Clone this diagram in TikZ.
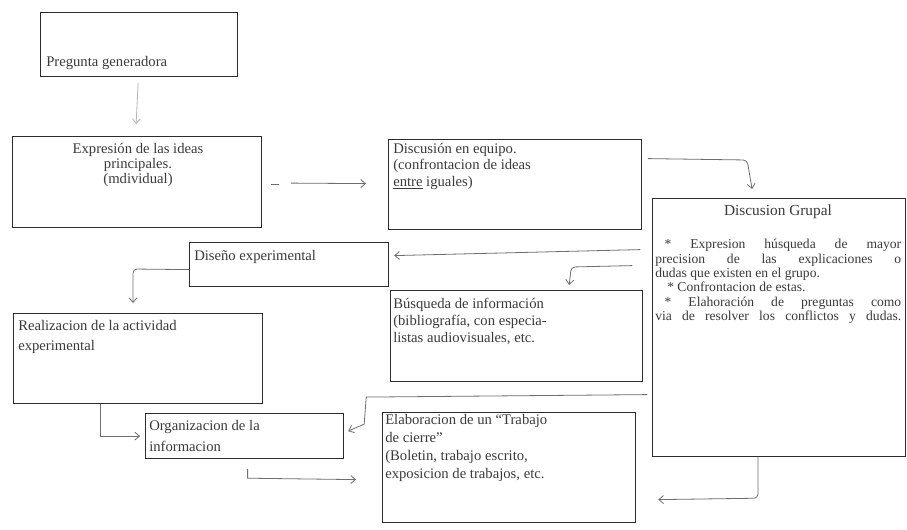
\documentclass[tikz,border=0pt]{standalone}
\usepackage{fontspec}
\setmainfont{Liberation Serif}
\usetikzlibrary{arrows.meta,calc}
\definecolor{ink}{HTML}{3A3A3A}
\definecolor{frame}{HTML}{2C2C2C}
\definecolor{pen}{HTML}{6E6E6E}
\newcommand{\framebx}[5]{\node[boxst,anchor=north west,minimum width={(#4-#2)*0.75pt},minimum height={(#5-#3)*0.75pt}] (#1) at (#2,#3) {};}
\begin{document}
\begin{tikzpicture}[x=0.75pt,y=-0.75pt,
  boxst/.style={draw=frame,line width=0.9pt,inner sep=0pt,fill=none},
  txt/.style={font=\fontsize{11}{13.5}\selectfont,text=ink,inner sep=0pt,align=left},
  txtsmall/.style={font=\fontsize{10.2}{10.8}\selectfont,text=ink,inner sep=0pt},
  arr/.style={draw=pen,line width=0.6pt,line cap=round,line join=round,-{Straight Barb[length=3.5pt,width=6pt]}},
  faint/.style={draw=pen!45,line width=0.6pt}]
\useasboundingbox[fill=white] (0,0) rectangle (907,529);

% boxes
\framebx{b1}{40}{12}{237}{76}
\framebx{b2}{12}{136}{261}{227}
\framebx{b3}{388}{139}{641}{229}
\framebx{b4}{652}{198}{905}{456}
\framebx{dis}{189}{242}{388}{286}
\framebx{bus}{390}{290}{642}{381}
\framebx{real}{13}{313}{262}{403}
\framebx{org}{145}{413}{343}{458}
\framebx{elab}{382}{412}{635}{522}

% texts
\node[txt,anchor=base west] (t1) at (46,66) {Pregunta generadora};
\node[txt,anchor=north,align=center,font=\fontsize{11}{11.2}\selectfont] (t2) at (138,143) {Expresión de las ideas\\principales.\\(mdividual)};
\node[txt,anchor=north west,font=\fontsize{11}{12.3}\selectfont] (t3) at (393,143) {Discusión en equipo.\\(confrontacion de ideas\\\underline{entre} iguales)};
\node[txt,anchor=center,font=\fontsize{11.5}{13.5}\selectfont] (t4) at (778,212) {Discusion Grupal};
\node[txtsmall,anchor=north west,text width=184.5pt,align=justify] (t4b) at (655,239)
  {\hspace*{7pt}* Expresion húsqueda de mayor\linebreak precision de las explicaciones o\linebreak dudas que existen en el grupo.\\
   \hspace*{9pt}* Confrontacion de estas.\\
   \hspace*{7pt}* Elahoración de preguntas como\linebreak \makebox[\linewidth][s]{via de resolver los conflictos y dudas.}};
\node[txt,anchor=north west] (t5) at (194,250) {Diseño experimental};
\node[txt,anchor=north west,font=\fontsize{11}{12.7}\selectfont] (t6) at (393,298) {Búsqueda de información\\(bibliografía, con especia-\\listas audiovisuales, etc.};
\node[txt,anchor=north west,font=\fontsize{11}{15}\selectfont] (t7) at (18,320) {Realizacion de la actividad\\experimental};
\node[txt,anchor=north west,font=\fontsize{11}{15.5}\selectfont] (t8) at (149,420) {Organizacion de la\\informacion};
\node[txt,anchor=north west] (t9) at (385,414) {Elaboracion de un “Trabajo\\de cierre”\\(Boletin, trabajo escrito,\\exposicion de trabajos, etc.};

% connectors
\draw[arr,draw=pen!50] ($(b1.south)+(-1,6)$) -- ($(b2.north)+(-1,-12)$);
\draw[faint,draw=pen] ($(b2.east)+(9,2)$) -- ($(b2.east)+(17,2)$);
\draw[arr] ($(b2.east)+(29,1)$) -- ($(b3.west)+(-22,-1)$);
\draw[arr,rounded corners=3pt] ($(b3.east)+(6,-26)$) -- ($(b4.north)+(-32,-38)$) -- ($(b4.north)+(-27,-9)$);
\draw[arr] ($(b4.west)+(-12,-78)$) -- ($(dis.east)+(5,-9)$);
\draw[arr,rounded corners=3pt] ($(b4.west)+(-20,-62)$) -- ($(bus.north east)+(-72,-23)$) -- ($(bus.north east)+(-74,-5)$);
\draw[arr,rounded corners=3pt] ($(dis.west)+(0,5)$) -- ($(real.north west)+(120,-44)$) -- ($(real.north west)+(120,-10)$);
\draw[arr] ($(real.south west)+(87,0)$) |- ($(org.west)+(-5,0)$);
\draw[arr] ($(b4.west)+(-5,67)$) -- ($(org.east)+(22,-39)$) -- ($(org.east)+(20,-12)$) -- ($(org.east)+(4,-5)$);
\draw[arr] ($(org.south)+(3,10)$) -- ($(org.south)+(3,19)$) -- ($(elab.west)+(-26,12)$);
\draw[arr,rounded corners=3pt] ($(b4.south west)+(106,0)$) -- ($(b4.south west)+(106,41)$) -- ($(elab.east)+(22,32)$);
\end{tikzpicture}
\end{document}
